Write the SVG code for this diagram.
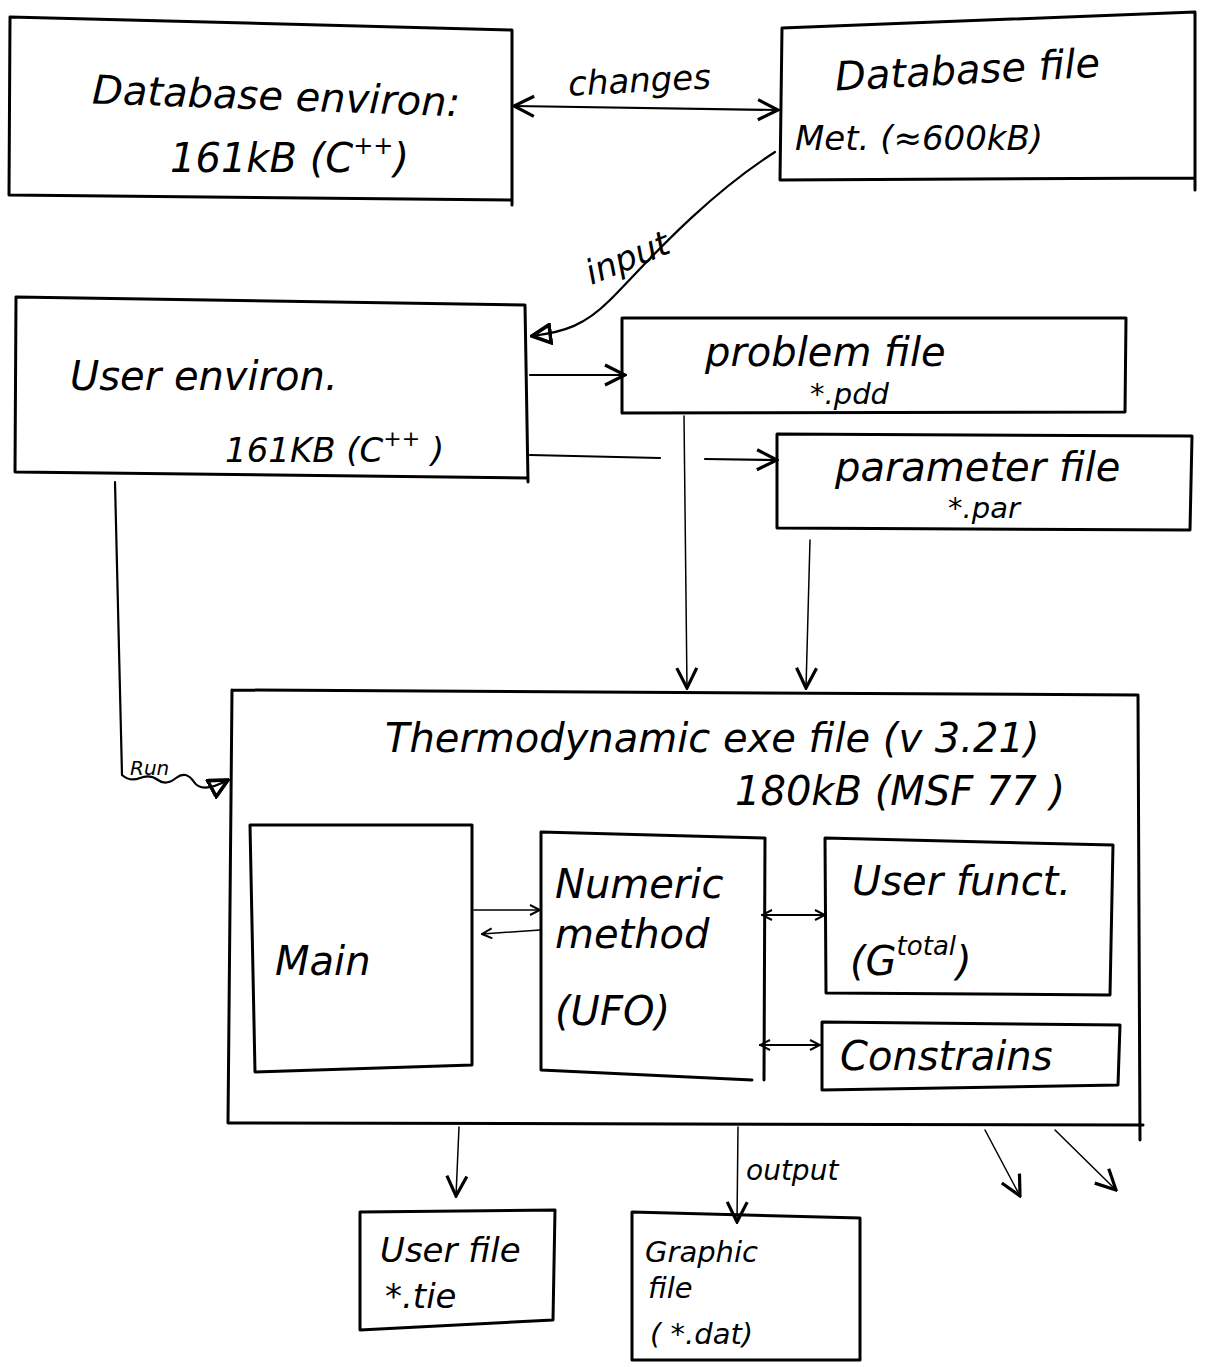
<svg xmlns="http://www.w3.org/2000/svg" width="1209" height="1367" viewBox="0 0 1209 1367">
<defs>
<marker id="v" viewBox="0 0 12 12" refX="11" refY="6" markerWidth="12" markerHeight="12" markerUnits="userSpaceOnUse" orient="auto-start-reverse">
<path d="M1,1 L11,6 L1,11" fill="none" stroke="#000" stroke-width="2"/>
</marker>
<marker id="vb" viewBox="0 0 12 12" refX="11" refY="6" markerWidth="24" markerHeight="24" markerUnits="userSpaceOnUse" orient="auto-start-reverse">
<path d="M1,1 L11,6 L1,11" fill="none" stroke="#000" stroke-width="1.6"/>
</marker>
<marker id="tri" viewBox="0 0 12 12" refX="11" refY="6" markerWidth="22" markerHeight="22" markerUnits="userSpaceOnUse" orient="auto">
<path d="M1,1 L11,6 L1,11 Z" fill="none" stroke="#000" stroke-width="2"/>
</marker>
</defs>
<style>
.box{fill:none;stroke:#000;stroke-width:3;stroke-linejoin:round;stroke-linecap:round}
.c{fill:none;stroke:#000;stroke-width:2.2;stroke-linecap:round}
.ct{fill:none;stroke:#000;stroke-width:1.5;stroke-linecap:round}
.t{font-family:"DejaVu Sans",sans-serif;font-style:oblique;fill:#000}
.l{font-size:40px}
.m{font-size:34px}
.s{font-size:28px}
.xs{font-size:29px}
</style>
<rect width="1209" height="1367" fill="#fff"/>

<g id="connectors">
<path class="c" d="M514,106 L778,110" marker-start="url(#vb)" marker-end="url(#vb)"/>
<path class="c" d="M775,152 C700,200 640,270 610,300 C585,325 565,332 532,336" marker-end="url(#tri)"/>
<path class="c" d="M530,375 L625,375" marker-end="url(#vb)"/>
<path class="c" d="M530,455 L660,458"/>
<path class="c" d="M705,459 L777,460" marker-end="url(#vb)"/>
<path class="ct" d="M684,416 L687,688" marker-end="url(#vb)"/>
<path class="ct" d="M810,540 L806,688" marker-end="url(#vb)"/>
<path class="c" d="M115,482 L122,775 Q130,782 140,778 T158,780 T176,778 T194,782 T228,780" marker-end="url(#tri)"/>
<path class="ct" d="M474,910 L540,910" marker-end="url(#v)"/>
<path class="ct" d="M540,930 L482,934" marker-end="url(#v)"/>
<path class="c" d="M762,915 L825,915" marker-start="url(#v)" marker-end="url(#v)"/>
<path class="c" d="M760,1045 L820,1045" marker-start="url(#v)" marker-end="url(#v)"/>
<path class="ct" d="M459,1127 L456,1196" marker-end="url(#vb)"/>
<path class="ct" d="M738,1127 L737,1222" marker-end="url(#vb)"/>
<path class="ct" d="M985,1130 L1020,1196" marker-end="url(#vb)"/>
<path class="ct" d="M1055,1130 L1116,1190" marker-end="url(#vb)"/>
<text class="t m" x="568" y="92" transform="rotate(-3 640 80)">changes</text>
<text class="t m" x="582" y="272" transform="rotate(-22 620 255)">input</text>
<text class="t" style="font-size:20px" x="130" y="775">Run</text>
<text class="t s" x="746" y="1180">output</text>
</g>

<g id="database-environ">
<path class="box" d="M10,17 L512,30 L512,205 M10,17 L9,195 L512,200"/>
<text class="t l" x="92" y="110" transform="rotate(2 280 100)">Database environ:</text>
<text class="t l" x="170" y="172">161kB (C<tspan font-size="24" dy="-18">++</tspan><tspan dy="18">)</tspan></text>
</g>

<g id="database-file">
<path class="box" d="M782,28 L1195,12 L1195,190 M782,28 L780,180 L1195,178"/>
<text class="t l" x="835" y="82" transform="rotate(-3 1000 70)">Database file</text>
<text class="t m" x="795" y="150">Met.  (≈600kB)</text>
</g>

<g id="user-environ">
<path class="box" d="M16,297 L525,305 L528,482 M16,297 L15,472 L528,478"/>
<text class="t l" x="70" y="390">User environ.</text>
<text class="t m" x="225" y="462">161KB (C<tspan font-size="22" dy="-16">++</tspan><tspan dy="16">     )</tspan></text>
</g>

<g id="problem-file">
<path class="box" d="M622,318 L1126,318 L1125,412 L622,413 Z"/>
<text class="t l" x="705" y="366">problem file</text>
<text class="t xs" x="810" y="404">*.pdd</text>
</g>

<g id="parameter-file">
<path class="box" d="M777,434 L1192,436 L1190,530 L777,528 Z"/>
<text class="t l" x="835" y="481">parameter file</text>
<text class="t xs" x="948" y="518">*.par</text>
</g>

<g id="thermodynamic-exe">
<path class="box" d="M232,690 L1138,695 L1140,1140 M232,690 L228,1123 L1143,1125"/>
<text class="t l" x="385" y="752">Thermodynamic exe file  (v 3.21)</text>
<text class="t l" x="735" y="805">180kB  (MSF 77 )</text>
</g>

<g id="main">
<path class="box" d="M250,825 L472,825 L472,1065 L255,1072 L250,825"/>
<text class="t l" x="275" y="975">Main</text>
</g>

<g id="numeric-method">
<path class="box" d="M541,832 L765,838 L764,1080 M541,832 L541,1070 L752,1080"/>
<text class="t l" x="555" y="898">Numeric</text>
<text class="t l" x="555" y="948">method</text>
<text class="t l" x="555" y="1025">(UFO)</text>
</g>

<g id="user-funct">
<path class="box" d="M825,838 L1113,845 L1110,995 L826,993 Z"/>
<text class="t l" x="852" y="895">User funct.</text>
<text class="t l" x="850" y="975">(G<tspan font-size="26" dy="-20">total</tspan><tspan dy="20">)</tspan></text>
</g>

<g id="constrains">
<path class="box" d="M822,1022 L1120,1025 L1118,1085 L822,1090 Z"/>
<text class="t l" x="840" y="1070">Constrains</text>
</g>

<g id="user-file">
<path class="box" d="M360,1212 L555,1210 L553,1320 L360,1330 Z"/>
<text class="t m" x="380" y="1262">User file</text>
<text class="t m" x="385" y="1308">*.tie</text>
</g>

<g id="graphic-file">
<path class="box" d="M632,1212 L860,1218 L860,1360 L632,1360 Z"/>
<text class="t xs" x="645" y="1262">Graphic</text>
<text class="t xs" x="648" y="1298">file</text>
<text class="t xs" x="650" y="1344">( *.dat)</text>
</g>
</svg>
